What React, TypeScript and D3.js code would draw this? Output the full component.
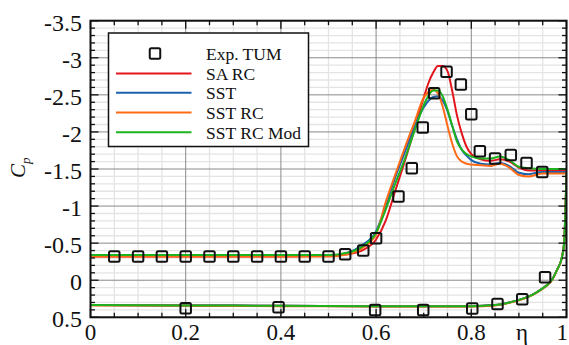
import React from "react";
import * as d3 from "d3";

// ---------- data ----------
const etaUpper = [0, 0.1, 0.2, 0.3, 0.4, 0.5, 0.54, 0.57, 0.6, 0.62, 0.64, 0.66, 0.68, 0.7, 0.71, 0.72, 0.73, 0.74, 0.75, 0.76, 0.77, 0.78, 0.79, 0.8, 0.82, 0.84, 0.86, 0.88, 0.9, 0.92, 0.95, 1.0];
const cpSARC = [-0.32, -0.32, -0.32, -0.32, -0.32, -0.33, -0.35, -0.4, -0.55, -0.8, -1.2, -1.6, -2.02, -2.46, -2.66, -2.8, -2.89, -2.89, -2.82, -2.55, -2.22, -1.98, -1.8, -1.7, -1.63, -1.61, -1.63, -1.6, -1.52, -1.48, -1.48, -1.48];
const cpSST = [-0.33, -0.33, -0.33, -0.33, -0.33, -0.33, -0.37, -0.47, -0.66, -1.0, -1.38, -1.72, -2.06, -2.33, -2.42, -2.47, -2.48, -2.42, -2.28, -2.08, -1.9, -1.76, -1.68, -1.62, -1.57, -1.56, -1.58, -1.54, -1.45, -1.43, -1.46, -1.46];
const cpSSTRC = [-0.32, -0.32, -0.32, -0.32, -0.32, -0.32, -0.35, -0.43, -0.62, -1.05, -1.42, -1.78, -2.12, -2.46, -2.54, -2.57, -2.52, -2.34, -2.08, -1.84, -1.67, -1.6, -1.57, -1.56, -1.55, -1.54, -1.57, -1.52, -1.42, -1.4, -1.44, -1.44];
const cpSSTRCMod = [-0.34, -0.34, -0.34, -0.34, -0.34, -0.34, -0.37, -0.45, -0.64, -0.95, -1.3, -1.63, -2.0, -2.36, -2.49, -2.56, -2.56, -2.48, -2.3, -2.08, -1.87, -1.76, -1.7, -1.67, -1.64, -1.64, -1.67, -1.62, -1.53, -1.51, -1.5, -1.5];

const etaLower = [0, 0.2, 0.4, 0.6, 0.8, 0.85, 0.88, 0.91, 0.93, 0.95, 0.96, 0.97, 0.98, 0.99, 0.995, 1.0];
const cpLower = [0.335, 0.34, 0.345, 0.35, 0.35, 0.335, 0.3, 0.245, 0.19, 0.11, 0.06, -0.01, -0.14, -0.3, -0.5, -1.45];
const cpLowerOrange = [0.34, 0.345, 0.35, 0.355, 0.355, 0.34, 0.305, 0.25, 0.195, 0.115, 0.065, -0.005, -0.135, -0.3, -0.5, -1.44];

const expEtaUpper = [0.05, 0.1, 0.15, 0.2, 0.25, 0.3, 0.35, 0.4, 0.45, 0.5, 0.535, 0.573, 0.6, 0.647, 0.675, 0.698, 0.722, 0.748, 0.778, 0.8, 0.818, 0.85, 0.883, 0.916, 0.949];
const expCpUpper = [-0.32, -0.32, -0.32, -0.32, -0.32, -0.32, -0.32, -0.32, -0.32, -0.32, -0.35, -0.4, -0.565, -1.13, -1.51, -2.06, -2.52, -2.81, -2.64, -2.24, -1.74, -1.64, -1.69, -1.58, -1.46];
const expEtaLower = [0.2, 0.395, 0.598, 0.699, 0.802, 0.855, 0.907, 0.955];
const expCpLower = [0.379, 0.365, 0.4, 0.4, 0.38, 0.32, 0.257, -0.04];

const seriesNames = ["SA RC", "SST", "SST RC", "SST RC Mod"];
const seriesColors = ["#e3161d", "#1d62ad", "#ff6a17", "#1fb21f"];
const seriesUpper = [cpSARC, cpSST, cpSSTRC, cpSSTRCMod];
const seriesLower = [cpLower, cpLower, cpLowerOrange, cpLower];

const yTickLabels = ["-3.5", "-3", "-2.5", "-2", "-1.5", "-1", "-0.5", "0", "0.5"];
const yTickValues = [-3.5, -3, -2.5, -2, -1.5, -1, -0.5, 0, 0.5];
const xTickLabels = ["0", "0.2", "0.4", "0.6", "0.8", "η", "1"];
const xTickValues = [0, 0.2, 0.4, 0.6, 0.8, 0.9, 1];

export default function App() {
  const W = 569, H = 345;
  const x0 = 90.5, x1 = 566.5, y0 = 20.7, y1 = 317.3;
  const x = d3.scaleLinear().domain([0, 1]).range([x0, x1]);
  const y = d3.scaleLinear().domain([-3.5, 0.5]).range([y0, y1]);
  const line = d3.line<[number, number]>().x(d => x(d[0])).y(d => y(d[1])).curve(d3.curveMonotoneX);

  const xMinor = d3.range(0, 1.0001, 0.05);
  const xMajor = d3.range(0, 1.0001, 0.2);
  const yMinor = d3.range(-3.5, 0.5001, 0.1);
  const yMajor = d3.range(-3.5, 0.5001, 0.5);
  const isMajorX = (v: number) => Math.abs(v / 0.2 - Math.round(v / 0.2)) < 1e-6;
  const isMajorY = (v: number) => Math.abs(v / 0.5 - Math.round(v / 0.5)) < 1e-6;

  const font = "'Liberation Serif', 'Times New Roman', serif";
  const sq = 10.5;

  const legendX = 108.5, legendY = 33, legendW = 200, legendH = 113.5;
  const rowY = [53.5, 73.5, 92.8, 112.5, 132.3];

  return (
    <svg width={W} height={H} style={{ position: "absolute", left: 0, top: 0, background: "#fff" }}>
      <defs>
        <clipPath id="plotclip">
          <rect x={x0} y={y0} width={x1 - x0} height={y1 - y0} />
        </clipPath>
      </defs>
      {/* minor grid */}
      <g stroke="#e4e4e4" strokeWidth={1.3}>
        {xMinor.filter(v => !isMajorX(v)).map((v, i) => (
          <line key={"gx" + i} x1={x(v)} x2={x(v)} y1={y0} y2={y1} />
        ))}
        {yMinor.filter(v => !isMajorY(v)).map((v, i) => (
          <line key={"gy" + i} x1={x0} x2={x1} y1={y(v)} y2={y(v)} />
        ))}
      </g>
      {/* major grid */}
      <g stroke="#8a8a8a" strokeWidth={1}>
        {xMajor.map((v, i) => (
          <line key={"Gx" + i} x1={x(v)} x2={x(v)} y1={y0} y2={y1} />
        ))}
        {yMajor.map((v, i) => (
          <line key={"Gy" + i} x1={x0} x2={x1} y1={y(v)} y2={y(v)} />
        ))}
      </g>
      {/* curves */}
      <g clipPath="url(#plotclip)" fill="none" strokeWidth={2}>
        {seriesUpper.map((s, i) => (
          <path key={"u" + i} d={line(etaUpper.map((e, j) => [e, s[j]] as [number, number])) || ""} stroke={seriesColors[i]} />
        ))}
        {seriesLower.map((s, i) => (
          <path key={"l" + i} d={line(etaLower.map((e, j) => [e, s[j]] as [number, number])) || ""} stroke={seriesColors[i]} />
        ))}
      </g>
      {/* experimental squares */}
      <g fill="none" stroke="#111" strokeWidth={2}>
        {expEtaUpper.map((e, i) => (
          <rect key={"eu" + i} x={x(e) - sq / 2} y={y(expCpUpper[i]) - sq / 2} width={sq} height={sq} rx={1.5} />
        ))}
        {expEtaLower.map((e, i) => (
          <rect key={"el" + i} x={x(e) - sq / 2} y={y(expCpLower[i]) - sq / 2} width={sq} height={sq} rx={1.5} />
        ))}
      </g>
      {/* legend */}
      <rect x={legendX} y={legendY} width={legendW} height={legendH} fill="#fff" stroke="#111" strokeWidth={1.5} />
      <rect x={155 - sq / 2} y={rowY[0] - sq / 2} width={sq} height={sq} rx={1.5} fill="none" stroke="#111" strokeWidth={2} />
      <text x={206} y={rowY[0] + 6.5} fontFamily={font} fontSize={17.5} fill="#111">Exp. TUM</text>
      {seriesNames.map((n, i) => (
        <g key={"lg" + i}>
          <line x1={116} x2={191.5} y1={rowY[i + 1]} y2={rowY[i + 1]} stroke={seriesColors[i]} strokeWidth={2} />
          <text x={206} y={rowY[i + 1] + 6.5} fontFamily={font} fontSize={17.5} fill="#111">{n}</text>
        </g>
      ))}
      {/* frame */}
      <rect x={x0} y={y0} width={x1 - x0} height={y1 - y0} fill="none" stroke="#111" strokeWidth={2} />
      {/* ticks */}
      <g stroke="#111" strokeWidth={1.3}>
        {xMinor.map((v, i) => {
          const L = isMajorX(v) ? 8 : 4.5;
          return (
            <g key={"tx" + i}>
              <line x1={x(v)} x2={x(v)} y1={y1} y2={y1 - L} />
              <line x1={x(v)} x2={x(v)} y1={y0} y2={y0 + L} />
            </g>
          );
        })}
        {yMinor.map((v, i) => {
          const L = isMajorY(v) ? 8 : 4.5;
          return (
            <g key={"ty" + i}>
              <line x1={x0} x2={x0 + L} y1={y(v)} y2={y(v)} />
              <line x1={x1} x2={x1 - L} y1={y(v)} y2={y(v)} />
            </g>
          );
        })}
      </g>
      {/* tick labels */}
      <g fontFamily={font} fontSize={24} fill="#111">
        {yTickValues.map((v, i) => (
          <text key={"yl" + i} x={82} y={y(v) + 10} textAnchor="end">{yTickLabels[i]}</text>
        ))}
      </g>
      <g fontFamily={font} fontSize={23} fill="#111">
        {xTickValues.map((v, i) => {
          const lab = xTickLabels[i];
          const isLast = i === xTickValues.length - 1;
          return (
            <text key={"xl" + i} x={isLast ? 568 : x(v) + (lab === "η" ? 3 : 0)} y={340} textAnchor={isLast ? "end" : "middle"}>{lab}</text>
          );
        })}
      </g>
      {/* y axis title */}
      <text transform="translate(25,178) rotate(-90)" fontFamily={font} fontSize={21} fontStyle="italic" fill="#111">
        C<tspan fontSize={13} dy={5}>p</tspan>
      </text>
    </svg>
  );
}
